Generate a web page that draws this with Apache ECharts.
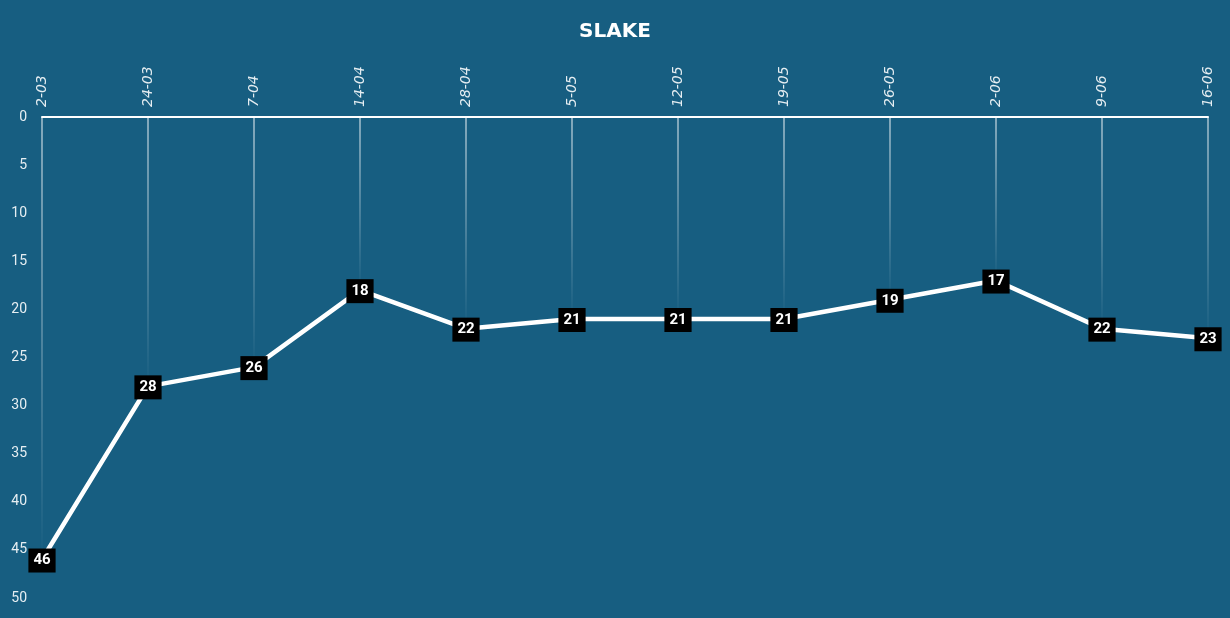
<!DOCTYPE html>
<html>
<head>
<meta charset="utf-8">
<script src="https://cdn.jsdelivr.net/npm/echarts@6/dist/echarts.min.js"></script>
<style>
html,body{margin:0;padding:0;background:#175e81;}
#main{width:1230px;height:618px;}
</style>
</head>
<body>
<div id="main"></div>
<script>
var weeks = ['2-03','24-03','7-04','14-04','28-04','5-05','12-05','19-05','26-05','2-06','9-06','16-06'];
var ranks = [46, 28, 26, 18, 22, 21, 21, 21, 19, 17, 22, 23];
var rankTicks = {min: 0, max: 50, step: 5};

var myChart = echarts.init(document.getElementById('main'));
var option = {
    backgroundColor: '#175e81',
    title: {
        text: 'SLAKE',
        left: 'center',
        top: 17,
        textStyle: {
            color: '#ffffff',
            fontSize: 20,
            fontWeight: 'bold',
            fontFamily: 'DejaVu Sans'
        }
    },
    grid: {
        left: 42,
        right: 22,
        top: 117,
        bottom: 20
    },
    xAxis: {
        type: 'category',
        position: 'top',
        boundaryGap: false,
        data: weeks,
        axisLine: {lineStyle: {color: '#ffffff', width: 2}},
        axisTick: {show: false},
        axisLabel: {
            rotate: 90,
            margin: 10,
            color: '#e6eef2',
            fontSize: 14,
            fontStyle: 'italic',
            fontFamily: 'DejaVu Sans'
        },
        splitLine: {show: false}
    },
    yAxis: {
        type: 'value',
        inverse: true,
        min: rankTicks.min,
        max: rankTicks.max,
        interval: rankTicks.step,
        axisLine: {show: false},
        axisTick: {show: false},
        splitLine: {show: false},
        axisLabel: {
            margin: 15,
            color: '#e6eef2',
            fontSize: 14,
            fontFamily: 'Roboto'
        }
    },
    series: [
        {
            // drop lines from the axis to each point
            type: 'bar',
            data: ranks,
            barWidth: 1,
            silent: true,
            z: 1,
            itemStyle: {
                color: {
                    type: 'linear', x: 0, y: 0, x2: 0, y2: 1,
                    colorStops: [
                        {offset: 0, color: 'rgba(255,255,255,0.95)'},
                        {offset: 1, color: 'rgba(255,255,255,0)'}
                    ]
                }
            }
        },
        {
            type: 'line',
            data: ranks,
            z: 3,
            symbol: 'circle',
            symbolSize: 1,
            showSymbol: true,
            itemStyle: {color: '#ffffff'},
            lineStyle: {color: '#ffffff', width: 4.5},
            label: {
                show: true,
                position: 'inside',
                offset: [0, 1],
                backgroundColor: '#000000',
                color: '#ffffff',
                fontSize: 15,
                fontWeight: 'bold',
                fontFamily: 'Roboto',
                padding: [5, 5, 4, 5]
            }
        }
    ]
};
myChart.setOption(option);
</script>
</body>
</html>
